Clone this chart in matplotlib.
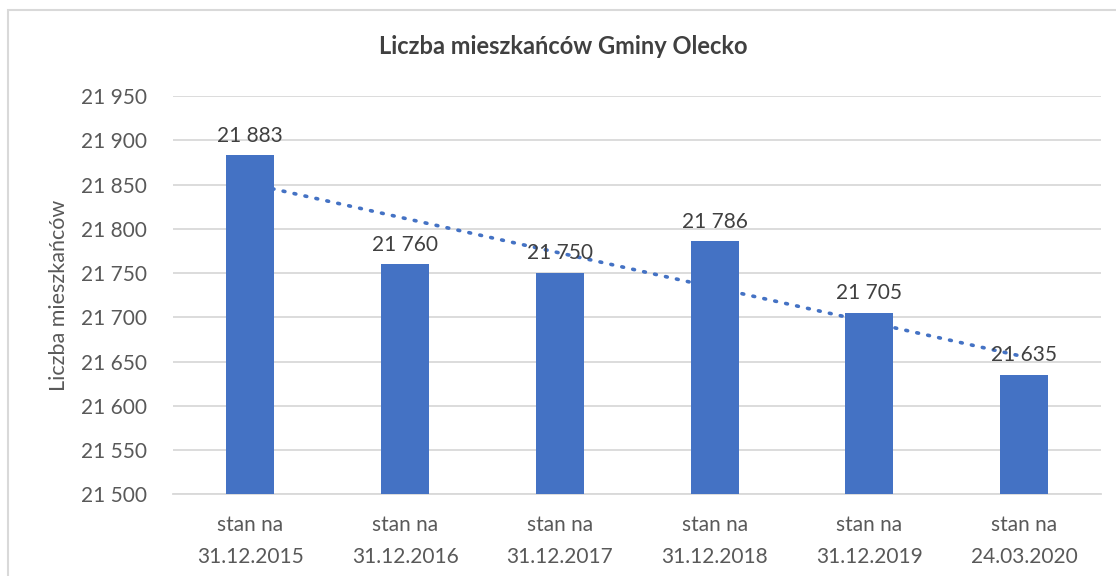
import matplotlib.pyplot as plt
import numpy as np
from matplotlib.patches import Rectangle
from matplotlib.ticker import FuncFormatter

categories = ['stan na\n31.12.2015', 'stan na\n31.12.2016', 'stan na\n31.12.2017',
              'stan na\n31.12.2018', 'stan na\n31.12.2019', 'stan na\n24.03.2020']
population = [21883, 21760, 21750, 21786, 21705, 21635]

BLUE = '#4472C4'
GRID = '#D9D9D9'
TXT = '#595959'

plt.rcParams['font.family'] = ['Lato', 'DejaVu Sans']

fig = plt.figure(figsize=(11.16, 5.76), dpi=100)
ax = fig.add_axes([0.155, 0.142, 0.832, 0.691])

# chart frame
fig.patches.append(Rectangle((8 / 1116, -0.1), 1.2, 1 - 10 / 576 + 0.1, transform=fig.transFigure,
                             fill=False, edgecolor=GRID, linewidth=1.5))

x = np.arange(len(population))
ax.bar(x, population, width=0.31, color=BLUE, zorder=3)

# linear trendline
coef = np.polyfit(x, population, 1)
ax.plot(x, np.polyval(coef, x), color=BLUE, linestyle=(0, (0.5, 2.6)), linewidth=2.6,
        dash_capstyle='round', zorder=2)

fmt = lambda v: f'{v:,.0f}'.replace(',', ' ')
for xi, v in zip(x, population):
    ax.annotate(fmt(v), (xi, v), xytext=(0, 7), textcoords='offset points',
                ha='center', va='bottom', fontsize=15, color='#404040', zorder=4)

ax.set_xlim(-0.5, len(population) - 0.5)
ax.set_ylim(21500, 21950)
ax.set_yticks(np.arange(21500, 21951, 50))
ax.yaxis.set_major_formatter(FuncFormatter(lambda v, p: fmt(v)))
ax.set_xticks(x)
ax.set_xticklabels(categories, linespacing=1.75)
ax.tick_params(axis='both', length=0, labelsize=15, labelcolor=TXT)
ax.tick_params(axis='x', pad=15)
ax.tick_params(axis='y', pad=19)

ax.grid(axis='y', color=GRID, linewidth=1.3, zorder=0)
for s in ('top', 'right', 'left'):
    ax.spines[s].set_visible(False)
ax.spines['bottom'].set_color(GRID)
ax.spines['bottom'].set_linewidth(1.3)

ax.set_ylabel('Liczba mieszkańców', fontsize=15.5, color=TXT, labelpad=8)
fig.text(0.505, 0.92, 'Liczba mieszkańców Gminy Olecko', ha='center', va='center',
         fontsize=17, fontweight='bold', color='#404040')

fig.savefig('out.png', dpi=100)
